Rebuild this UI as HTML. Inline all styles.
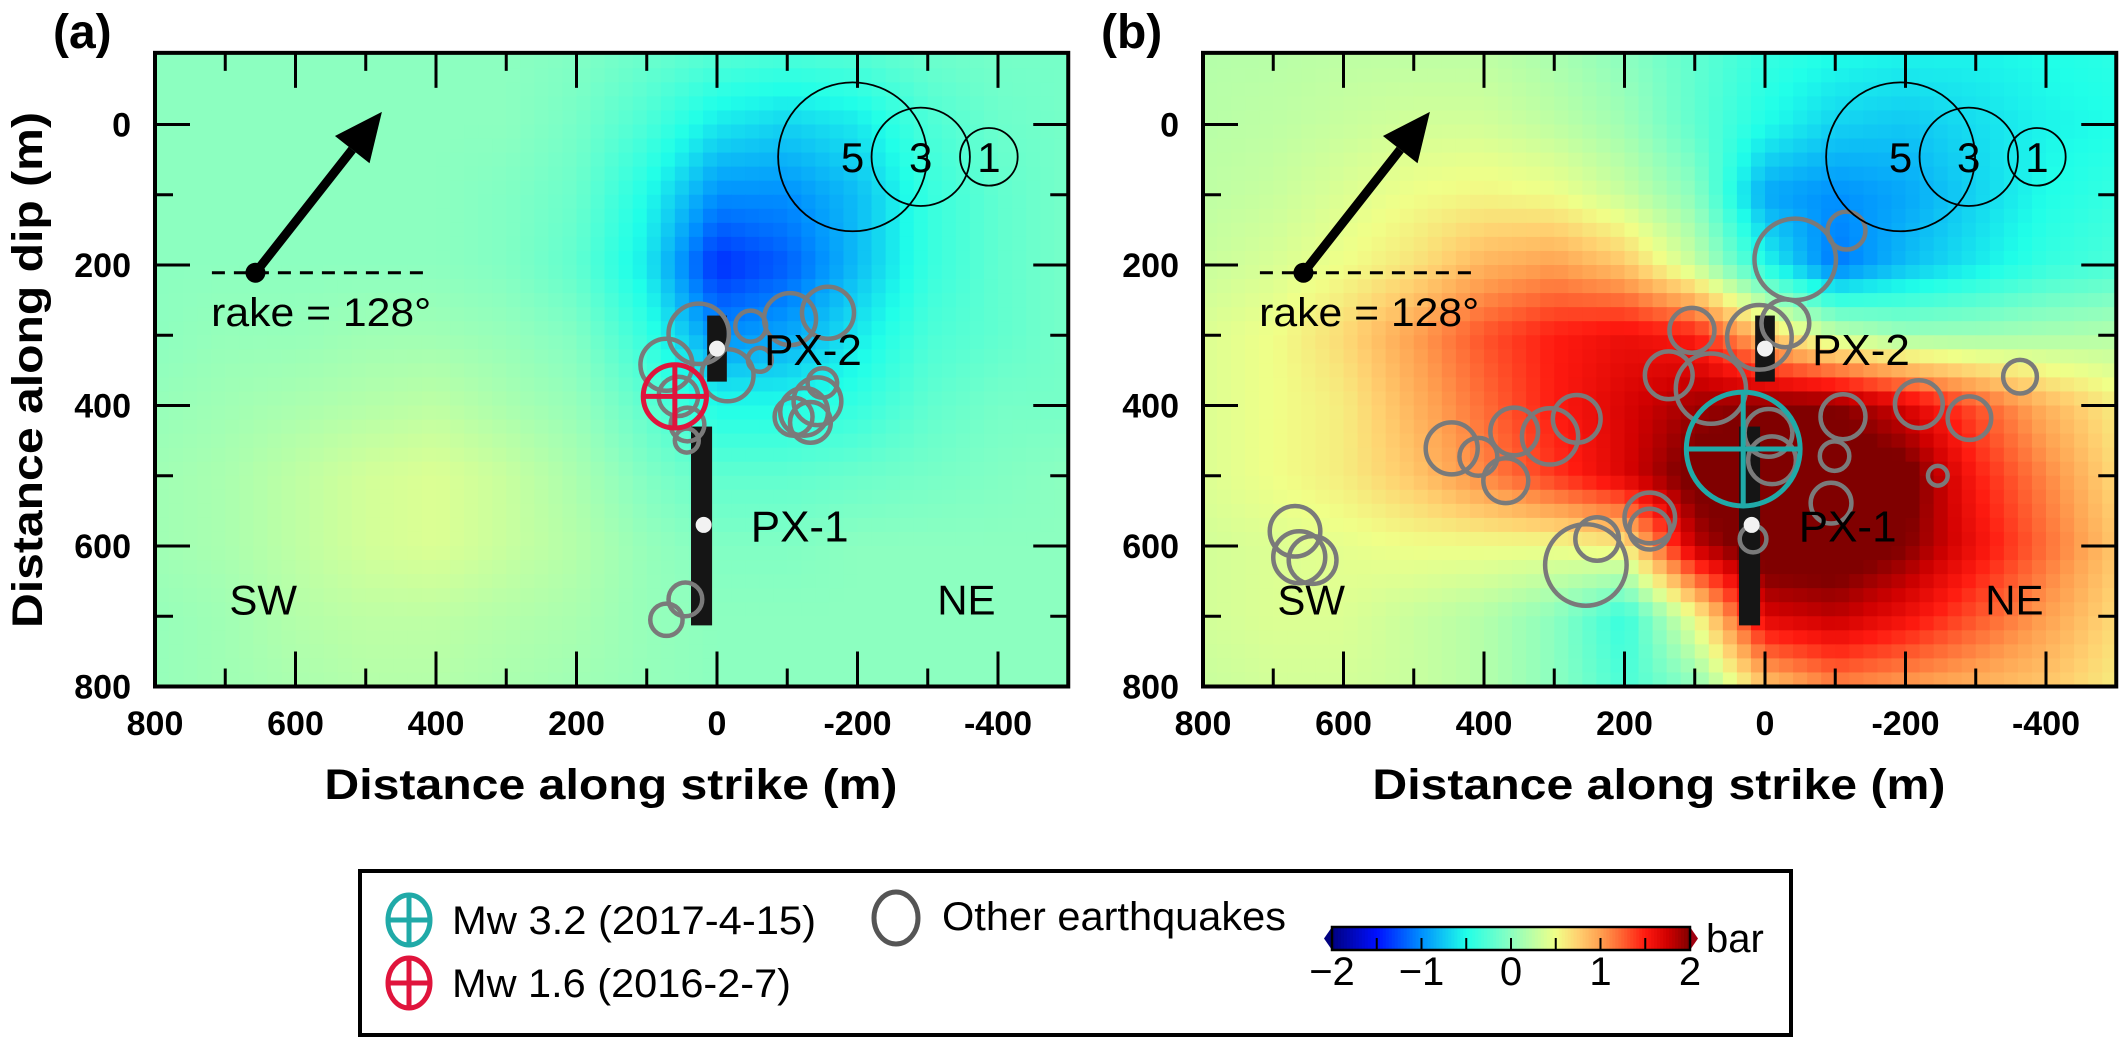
<!DOCTYPE html>
<html><head><meta charset="utf-8"><style>
html,body{margin:0;padding:0;background:#fff}
svg{display:block}
text{font-family:"Liberation Sans",Arial,sans-serif}
</style></head><body>
<svg id="fig" xmlns="http://www.w3.org/2000/svg" width="2128" height="1040" viewBox="0 0 2128 1040">
<defs>
<clipPath id="clipA"><rect x="155" y="53" width="913.3" height="633.5"/></clipPath>
<clipPath id="clipB"><rect x="1203" y="53" width="913.3" height="633.5"/></clipPath>
</defs>
<g id="panelA"></g>
<g id="panelB"></g>
<g id="legend"></g>
</svg>
<script>
// ---- data ----
const gridX = [800,700,600,500,400,300,200,100,0,-100,-200,-300,-400,-500];
const gridY = [-100,0,100,200,300,400,500,600,700,800];
const stressA = [
 [0,0,0,0,0,0,-0.05,-0.15,-0.25,-0.3,-0.25,-0.15,-0.1,-0.1],
 [0,0,0,0,0,0,-0.1,-0.3,-0.6,-0.7,-0.6,-0.3,-0.15,-0.1],
 [0,0,0,0,0,-0.05,-0.15,-0.5,-1.0,-1.0,-0.8,-0.4,-0.2,-0.1],
 [0,0,0,0,0,-0.05,-0.2,-0.6,-1.4,-1.2,-0.8,-0.4,-0.2,-0.1],
 [0,0.05,0.05,0.1,0.1,0.05,-0.05,-0.4,-1.0,-0.9,-0.6,-0.3,-0.2,-0.1],
 [0.05,0.1,0.15,0.2,0.25,0.15,0.05,-0.2,-0.5,-0.5,-0.4,-0.2,-0.1,-0.1],
 [0.1,0.15,0.25,0.35,0.4,0.3,0.15,-0.05,-0.2,-0.2,-0.15,-0.1,-0.05,0],
 [0.1,0.15,0.25,0.35,0.4,0.3,0.2,0.05,-0.05,-0.05,0,0,0,0],
 [0.05,0.1,0.2,0.25,0.25,0.2,0.15,0.05,0,0,0,0,0,0],
 [0.05,0.1,0.15,0.2,0.2,0.15,0.1,0.05,0,0,0,0,0,0]
];
const stressB = [
 [0.2,0.22,0.25,0.25,0.25,0.15,0.0,-0.2,-0.4,-0.5,-0.55,-0.55,-0.5,-0.45],
 [0.22,0.25,0.3,0.35,0.35,0.25,0.1,-0.2,-0.5,-0.7,-0.75,-0.65,-0.55,-0.5],
 [0.25,0.3,0.4,0.5,0.55,0.5,0.3,0.0,-0.9,-1.0,-0.9,-0.7,-0.5,-0.4],
 [0.3,0.38,0.5,0.65,0.9,1.0,0.8,0.3,-0.5,-1.1,-0.8,-0.6,-0.4,-0.3],
 [0.4,0.5,0.7,1.0,1.3,1.5,1.6,1.5,0.8,0.3,0.1,0.1,0.15,0.2],
 [0.4,0.5,0.6,0.9,1.2,1.5,1.7,1.9,2.0,2.0,1.7,1.3,0.9,0.6],
 [0.4,0.5,0.6,0.8,1.1,1.4,1.7,2.1,2.2,2.2,2.1,1.5,1.1,0.7],
 [0.35,0.4,0.45,0.5,0.5,0.5,0.6,1.8,2.2,2.2,2.0,1.6,1.2,0.8],
 [0.35,0.4,0.4,0.3,0.2,0.0,-0.4,0.5,1.7,1.8,1.6,1.3,1.0,0.7],
 [0.3,0.35,0.35,0.3,0.2,0.0,-0.3,0.0,0.8,1.1,1.0,0.9,0.8,0.6]
];
// other earthquakes: x, y, radius (m)
const quakesAx = [26,72,55,42,43,-15,-48,-61,-104,-158,-124,-143,-150,-109,-133,45,72];
const quakesAy = [298,342,387,427,450,357,287,335,277,268,409,394,368,416,424,676,705];
const quakesAr = [43,37,28,24,17,37,22,17,37,37,34,34,21,27,29,24,23];
const quakesBx = [-43,-116,104,8,-29,137,77,-5,-10,-111,-99,-94,-219,-291,-363,-246,17,446,408,357,369,306,268,164,164,239,255,669,663,644];
const quakesBy = [192,151,293,303,283,357,376,439,478,416,472,539,398,418,359,500,590,461,473,437,507,444,419,560,576,590,627,579,616,620];
const quakesBr = [58,27,32,46,34,34,50,34,34,32,21,29,34,31,24,14,19,37,27,34,32,40,34,36,29,31,58,36,37,34];
const mainA = [60,387,45];   // Mw 1.6
const mainB = [31,462,81];   // Mw 3.2
const scaleR = [5,3,1];
const scaleX = [-193,-290,-387];
const scaleY = [46,46,46];
const scaleRad = [106,70,41];
const xTicks = [800,600,400,200,0,-200,-400];
const yTicks = [0,200,400,600,800];
const cbTicks = [-2,-1,0,1,2];

// ---- helpers ----
const NS = "http://www.w3.org/2000/svg";
const K = 0.7025;
function yS(v){return 124.5 + v*K;}
function xA(v){return 155 + (800-v)*K;}
function xB(v){return 1203 + (800-v)*K;}
function mk(tag, attrs, parent){const e=document.createElementNS(NS,tag);for(const k in attrs)e.setAttribute(k,attrs[k]);parent.appendChild(e);return e;}
const stops=[[-2,[0,0,128]],[-1.5,[0,16,255]],[-1,[0,144,255]],[-0.5,[32,255,232]],[0,[140,255,192]],[0.5,[240,255,136]],[0.75,[255,208,112]],[1,[255,160,80]],[1.25,[255,96,48]],[1.5,[255,26,16]],[1.75,[208,0,0]],[2,[128,0,0]]];
function cmap(v){v=Math.max(-2,Math.min(2,v));for(let i=0;i<stops.length-1;i++){const a=stops[i],b=stops[i+1];if(v<=b[0]){const t=(v-a[0])/(b[0]-a[0]);return "rgb("+a[1].map((c,j)=>Math.round(c+(b[1][j]-c)*t)).join(",")+")";}}return "rgb(128,0,0)";}
function sample(grid,x,y){
  let fx=(800-x)/100, fy=(y+100)/100;
  fx=Math.max(0,Math.min(13,fx)); fy=Math.max(0,Math.min(9,fy));
  const i0=Math.min(12,Math.floor(fx)), j0=Math.min(8,Math.floor(fy));
  const tx=fx-i0, ty=fy-j0;
  const a=grid[j0][i0],b=grid[j0][i0+1],c=grid[j0+1][i0],d=grid[j0+1][i0+1];
  return a*(1-tx)*(1-ty)+b*tx*(1-ty)+c*(1-tx)*ty+d*tx*ty;
}
function panel(gid, X, grid, clip, qx, qy, qr, main, mainColor, mainName, label, showYTitle){
  const g=document.getElementById(gid);
  const hm=mk("g",{"clip-path":"url(#"+clip+")"},g);
  
  
  const step=20;
  for(let yv=-120; yv<800; yv+=step){
    for(let xv=800; xv>-520; xv-=step){
      const v=sample(grid, xv-step/2, yv+step/2);
      const r=mk("rect",{x:X(xv).toFixed(2),y:yS(yv).toFixed(2),width:(step*K+0.6).toFixed(2),height:(step*K+0.6).toFixed(2),fill:cmap(v)},hm);
      
      
    }
  }
  const L=X(800), R=X(-500), T=yS(-102), B=yS(800);
  const tk=mk("g",{stroke:"#000","stroke-width":3},g);
  
  
  for(let v=700; v>=-500; v-=100){ if(v===-500) continue;
    const len=(v%200===0)?35:18; const x=X(v);
    mk("line",{x1:x,y1:T,x2:x,y2:T+len},tk); mk("line",{x1:x,y1:B,x2:x,y2:B-len},tk);}
  for(let v=0; v<800; v+=100){
    const len=(v%200===0)?35:18; const y=yS(v);
    mk("line",{x1:L,y1:y,x2:L+len,y2:y},tk); mk("line",{x1:R,y1:y,x2:R-len,y2:y},tk);}
  const w2=mk("rect",{x:X(14),y:yS(272),width:28*K,height:(366-272)*K,fill:"#151515"},g);
   
  const w1=mk("rect",{x:X(37),y:yS(430),width:30*K,height:(713-430)*K,fill:"#151515"},g);
   
  for(let i=0;i<qx.length;i++){
    const c=mk("circle",{cx:X(qx[i]),cy:yS(qy[i]),r:qr[i]*K,fill:"none",stroke:"#7a7a7a","stroke-width":4.5},g);
    
    
  }
  const mg=mk("g",{stroke:mainColor,"stroke-width":5,fill:"none"},g);
   
  const cx=X(main[0]), cy=yS(main[1]), rr=main[2]*K;
  mk("circle",{cx:cx,cy:cy,r:rr},mg);
  mk("line",{x1:cx-rr,y1:cy,x2:cx+rr,y2:cy},mg);
  mk("line",{x1:cx,y1:cy-rr,x2:cx,y2:cy+rr},mg);
  [[0,319],[19,570]].forEach(p=>{const d=mk("circle",{cx:X(p[0]),cy:yS(p[1]),r:8,fill:"#f2f2f2"},g);
     });
  const t1=mk("text",{x:X(-67),y:yS(321)+15,"font-size":44},g); t1.textContent="PX-2";
   
  const t2=mk("text",{x:X(-48),y:yS(572)+15,"font-size":44},g); t2.textContent="PX-1";
   
  const sw=mk("text",{x:X(646),y:yS(676)+15,"font-size":42,"text-anchor":"middle"},g); sw.textContent="SW";
   
  const ne=mk("text",{x:X(-355),y:yS(676)+15,"font-size":42,"text-anchor":"middle"},g); ne.textContent="NE";
   
  for(let i=0;i<scaleR.length;i++){
    const c=mk("circle",{cx:X(scaleX[i]),cy:yS(scaleY[i]),r:scaleRad[i]*K,fill:"none",stroke:"#000","stroke-width":1.8},g);
     
    const t=mk("text",{x:X(scaleX[i]),y:yS(scaleY[i])+15,"font-size":42,"text-anchor":"middle"},g); t.textContent=scaleR[i];
     
  }
  const dl=mk("line",{x1:X(719),y1:yS(211),x2:X(407),y2:yS(211),stroke:"#000","stroke-width":3,"stroke-dasharray":"13 9"},g);
   
  const ag=mk("g",{},g);  
  const x0=X(657),y0=yS(211),x1=X(477),y1=yS(-18);
  const dx=x1-x0, dy=y1-y0, Ln=Math.hypot(dx,dy), ux=dx/Ln, uy=dy/Ln, hl=48, hw=22;
  const bx=x1-ux*hl, by=y1-uy*hl;
  mk("line",{x1:x0,y1:y0,x2:bx,y2:by,stroke:"#000","stroke-width":9},ag);
  mk("polygon",{points:[x1,y1,bx-uy*hw,by+ux*hw,bx+uy*hw,by-ux*hw].join(","),fill:"#000"},ag);
  mk("circle",{cx:x0,cy:y0,r:10,fill:"#000"},ag);
  const rk=mk("text",{x:X(720),y:yS(267)+14,"font-size":40,textLength:220,lengthAdjust:"spacingAndGlyphs"},g); rk.textContent="rake = 128°";
   
  const fr=mk("rect",{x:L,y:T,width:R-L,height:B-T,fill:"none",stroke:"#000","stroke-width":4},g);
   
  xTicks.forEach(v=>{const t=mk("text",{x:X(v),y:735,"font-size":34,"font-weight":"bold","text-anchor":"middle"},g);
    t.textContent=v;  });
  yTicks.forEach(v=>{const t=mk("text",{x:L-24,y:yS(v)+12,"font-size":34,"font-weight":"bold","text-anchor":"end"},g);
    t.textContent=v;  });
  const xt=mk("text",{x:X(151),y:799,"font-size":43,"font-weight":"bold","text-anchor":"middle",textLength:573,lengthAdjust:"spacingAndGlyphs"},g);
  xt.textContent="Distance along strike (m)";  
  if(showYTitle){
    const yt=mk("text",{x:0,y:0,"font-size":43,"font-weight":"bold","text-anchor":"middle",textLength:516,lengthAdjust:"spacingAndGlyphs",transform:"translate(42,370) rotate(-90)"},g);
    yt.textContent="Distance along dip (m)";  
  }
  const pl=mk("text",{x:L-102,y:48,"font-size":48,"font-weight":"bold"},g); pl.textContent=label;
   
}
panel("panelA", xA, stressA, "clipA", quakesAx, quakesAy, quakesAr, mainA, "#e0143c", "mw16-event", "(a)", true);
panel("panelB", xB, stressB, "clipB", quakesBx, quakesBy, quakesBr, mainB, "#20aaa8", "mw32-event", "(b)", false);

// ---- legend ----
(function(){
  const g=document.getElementById("legend");
  const box=mk("rect",{x:360,y:871,width:1431,height:164,fill:"#fff",stroke:"#000","stroke-width":4},g);
   
  function sym(cx,cy,col,name){const s=mk("g",{stroke:col,"stroke-width":5,fill:"none"},g);
     
    mk("ellipse",{cx:cx,cy:cy,rx:21,ry:25},s); mk("line",{x1:cx-21,y1:cy,x2:cx+21,y2:cy},s); mk("line",{x1:cx,y1:cy-25,x2:cx,y2:cy+25},s);}
  sym(409,920,"#20aaa8","legend-mw32-symbol");
  sym(409,983,"#e0143c","legend-mw16-symbol");
  const gc=mk("ellipse",{cx:896,cy:918,rx:22,ry:26,fill:"none",stroke:"#555","stroke-width":5},g);
   
  [["Mw 3.2 (2017-4-15)",452,934,364,"legend-mw32-text"],["Mw 1.6 (2016-2-7)",452,997,339,"legend-mw16-text"],["Other earthquakes",942,930,344,"legend-other-text"]].forEach(a=>{
    const t=mk("text",{x:a[1],y:a[2],"font-size":40,textLength:a[3],lengthAdjust:"spacingAndGlyphs"},g); t.textContent=a[0];
     });
  const cb=mk("g",{},g);  
  const cx0=1332, cx1=1690, cy0=927, cy1=950;
  for(let i=0;i<120;i++){const v=-2+4*(i+0.5)/120;
    mk("rect",{x:cx0+(cx1-cx0)*i/120,y:cy0,width:(cx1-cx0)/120+0.5,height:cy1-cy0,fill:cmap(v)},cb);}
  mk("polygon",{points:[cx0,cy0,cx0-8,(cy0+cy1)/2,cx0,cy1].join(","),fill:"#000080"},cb);
  mk("polygon",{points:[cx1,cy0,cx1+8,(cy0+cy1)/2,cx1,cy1].join(","),fill:"#a00010"},cb);
  mk("rect",{x:cx0,y:cy0,width:cx1-cx0,height:cy1-cy0,fill:"none",stroke:"#000","stroke-width":2.5},cb);
  for(let v=-1.5; v<2; v+=0.5){const x=cx0+(v+2)/4*(cx1-cx0); mk("line",{x1:x,y1:cy1,x2:x,y2:cy1-12,stroke:"#000","stroke-width":2},cb);}
  cbTicks.forEach(v=>{const t=mk("text",{x:cx0+(v+2)/4*(cx1-cx0),y:985,"font-size":40,"text-anchor":"middle"},g);
    t.textContent=(v<0?"\u2212"+(-v):v);  });
  const bu=mk("text",{x:1706,y:952,"font-size":40},g); bu.textContent="bar";
   
})();
</script>
</body></html>
